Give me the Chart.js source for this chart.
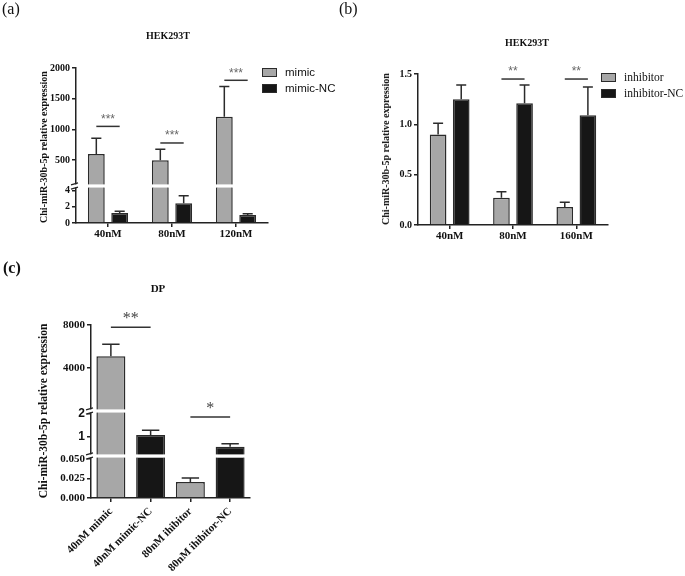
<!DOCTYPE html>
<html>
<head>
<meta charset="utf-8">
<script src="https://cdn.jsdelivr.net/npm/chart.js@4.4.1/dist/chart.umd.min.js"></script>
<style>
  body { margin: 0; background: #fff; }
  #page { position: relative; width: 685px; height: 576px; overflow: hidden; font-family: "Liberation Serif", "Times New Roman", serif; color: #111; }
  canvas { position: absolute; }
  .txt { position: absolute; white-space: nowrap; line-height: 1; }
  .ytitle { position: absolute; white-space: nowrap; line-height: 1; font-weight: bold; transform: translate(-50%, -50%) rotate(-90deg); }
  .key { position: absolute; box-sizing: border-box; width: 15px; height: 9px; border: 1.5px solid #2b2b2b; }
</style>
</head>
<body>
<div id="page">
  <canvas id="chartA" width="340" height="250" style="left:0;top:0"></canvas>
  <canvas id="chartB" width="340" height="250" style="left:345px;top:0"></canvas>
  <canvas id="chartC" width="340" height="326" style="left:0;top:250px"></canvas>

  <div class="txt" style="left:2px;top:1px;font-size:16px">(a)</div>
  <div class="txt" style="left:339px;top:1px;font-size:16px">(b)</div>
  <div class="txt" style="left:3px;top:260px;font-size:16px;font-weight:bold">(c)</div>

  <div class="txt" style="left:168px;top:36px;font-size:10px;font-weight:bold;transform:translate(-50%,-50%)">HEK293T</div>
  <div class="txt" style="left:527px;top:43px;font-size:10px;font-weight:bold;transform:translate(-50%,-50%)">HEK293T</div>
  <div class="txt" style="left:158px;top:288px;font-size:11px;font-weight:bold;transform:translate(-50%,-50%)">DP</div>

  <div class="ytitle" style="left:44px;top:147px;font-size:10px">Chi-miR-30b-5p relative expression</div>
  <div class="ytitle" style="left:386px;top:149px;font-size:10px">Chi-miR-30b-5p relative expression</div>
  <div class="ytitle" style="left:44px;top:411px;font-size:11.5px">Chi-miR-30b-5p relative expression</div>

  <div id="legendA"></div>
  <div id="legendB"></div>
</div>
<script>
// ---- data ----
const concA = ['40nM', '80nM', '120nM'];
const seriesA = ['mimic', 'mimic-NC'];
const mimicA = [600, 500, 1205];
const mimicErrA = [255, 180, 495];
const mimicNcA = [1.25, 2.45, 1.0];
const mimicNcErrA = [0.2, 0.95, 0.15];
const sigA = ['***', '***', '***'];
const sigLevelA = [1050, 780, 1800];
const ticksALow = [0, 2, 4];
const ticksAHigh = [500, 1000, 1500, 2000];

const concB = ['40nM', '80nM', '160nM'];
const seriesB = ['inhibitor', 'inhibitor-NC'];
const inhB = [0.90, 0.27, 0.18];
const inhErrB = [0.11, 0.06, 0.045];
const inhNcB = [1.25, 1.21, 1.09];
const inhNcErrB = [0.14, 0.18, 0.28];
const sigB = ['', '**', '**'];
const sigLevelB = [null, 1.45, 1.45];
const ticksB = [0, 0.5, 1.0, 1.5];

const groupsC = ['40nM mimic', '40nM mimic-NC', '80nM ihibitor', '80nM ihibitor-NC'];
const valuesC = [5100, 1.09, 0.0205, 0.57];
const errC = [1100, 0.2, 0.0052, 0.13];
const sigC = ['**', '*'];
const sigLevelC = [7800, 1.87];
const ticksCLow = [0, 0.025, 0.05];
const ticksCMid = [1, 2];
const ticksCTop = [4000, 8000];

// ---- styles ----
const serif = "'Liberation Serif', 'Times New Roman', serif";
const sans = "'Liberation Sans', Arial, sans-serif";
const gray = '#a7a7a7';
const black = '#161616';
const edge = '#2b2b2b';
const axisColor = '#222';

// clip a series to one axis segment as floating bars
function segData(values, lo, hi) {
  return values.map(v => (v > lo ? [lo, Math.min(v, hi)] : null));
}

// pixel of a value on a broken axis (ids ordered bottom -> top)
function pxOf(chart, ids, v) {
  for (const id of ids) {
    const s = chart.scales[id];
    if (v >= s.min && v <= s.max) return s.getPixelForValue(v);
  }
  for (let k = ids.length - 1; k >= 0; k--) {
    const s = chart.scales[ids[k]];
    if (v > s.max) return s.top;
  }
  return chart.scales[ids[0]].bottom;
}

function yScale(seg, fmt, fontFor) {
  return {
    type: 'linear', position: 'left', stacked: false,
    stack: 'y', stackWeight: seg.weight,
    min: seg.min, max: seg.max,
    afterFit: s => { s.width = seg.axisWidth; },
    afterBuildTicks: s => { s.ticks = seg.ticks.map(v => ({ value: v })); },
    grid: { drawOnChartArea: false, drawTicks: true, tickLength: 4, color: axisColor, lineWidth: 1.5 },
    border: { display: true, color: axisColor, width: 1.5 },
    ticks: { color: '#111', padding: 2, autoSkip: false, callback: fmt,
             font: fontFor || { family: serif, size: 10, weight: 'bold' } }
  };
}

function xScale(height, font, rotate) {
  return {
    type: 'category',
    afterFit: s => { s.height = height; },
    offset: true,
    grid: { offset: false, drawOnChartArea: false, drawTicks: true, tickLength: 4, color: axisColor, lineWidth: 1.5 },
    border: { display: true, color: axisColor, width: 1.5 },
    ticks: { color: '#111', padding: rotate ? 3 : 1, autoSkip: false,
             minRotation: rotate || 0, maxRotation: rotate || 0, font: font }
  };
}

function drawBreaks(ctx, chart, ids) {
  const a = chart.chartArea;
  for (let k = 0; k < ids.length - 1; k++) {
    const y = chart.scales[ids[k]].top;
    ctx.fillStyle = '#fff';
    ctx.fillRect(a.left - 2, y - 1.6, a.right - a.left + 2, 3.2);
    ctx.strokeStyle = axisColor;
    ctx.lineWidth = 1.2;
    ctx.beginPath();
    ctx.moveTo(a.left - 5, y - 1.2); ctx.lineTo(a.left + 2, y - 3.2);
    ctx.moveTo(a.left - 5, y + 3.2); ctx.lineTo(a.left + 2, y + 1.2);
    ctx.stroke();
  }
}

function drawErrors(ctx, chart, ids, datasetIndex, values, errs) {
  const meta = chart.getDatasetMeta(datasetIndex);
  ctx.strokeStyle = edge;
  ctx.lineWidth = 1.5;
  meta.data.forEach((bar, i) => {
    const x = bar.x, w = bar.width;
    const y0 = pxOf(chart, ids, values[i]);
    const y1 = pxOf(chart, ids, values[i] + errs[i]);
    ctx.beginPath();
    ctx.moveTo(x, y0); ctx.lineTo(x, y1);
    ctx.moveTo(x - w * 0.3, y1); ctx.lineTo(x + w * 0.3, y1);
    ctx.stroke();
  });
}

function drawSig(ctx, x0, x1, y, text, font, color, lift) {
  ctx.strokeStyle = '#333';
  ctx.lineWidth = 1.5;
  ctx.beginPath();
  ctx.moveTo(x0, y); ctx.lineTo(x1, y);
  ctx.stroke();
  ctx.fillStyle = color;
  ctx.font = font;
  ctx.textAlign = 'center';
  ctx.textBaseline = 'middle';
  ctx.fillText(text, (x0 + x1) / 2, y - lift);
}

function groupedPanel(canvasId, cats, names, vals, errs, sig, sigLevel, segs, box, fmt, starFont) {
  const ids = segs.map(s => s.id);
  const datasets = [];
  const lowIndex = [];
  names.forEach((name, si) => {
    segs.forEach((seg, gi) => {
      if (gi === 0) lowIndex.push(datasets.length);
      datasets.push({
        label: name,
        data: segData(vals[si], seg.min, seg.max),
        yAxisID: seg.id,
        stack: name,
        backgroundColor: si === 0 ? gray : black,
        borderColor: edge,
        borderWidth: 1.5,
        borderSkipped: 'start',
        categoryPercentage: 0.73,
        barPercentage: 0.72
      });
    });
  });
  const scales = { x: xScale(box.xHeight, { family: serif, size: 11, weight: 'bold' }) };
  segs.forEach(seg => { scales[seg.id] = yScale(seg, fmt); });

  new Chart(document.getElementById(canvasId), {
    type: 'bar',
    data: { labels: cats, datasets },
    options: {
      responsive: false, animation: false,
      layout: { padding: box.padding },
      plugins: { legend: { display: false }, tooltip: { enabled: false } },
      scales
    },
    plugins: [{
      id: 'extras',
      afterDatasetsDraw(chart) {
        const ctx = chart.ctx;
        ctx.save();
        drawBreaks(ctx, chart, ids);
        names.forEach((n, si) => drawErrors(ctx, chart, ids, lowIndex[si], vals[si], errs[si]));
        const m0 = chart.getDatasetMeta(lowIndex[0]);
        const m1 = chart.getDatasetMeta(lowIndex[1]);
        sig.forEach((t, i) => {
          if (!t) return;
          drawSig(ctx, m0.data[i].x, m1.data[i].x, pxOf(chart, ids, sigLevel[i]), t, starFont, '#666', 7);
        });
        ctx.restore();
      }
    }]
  });
}

function legendHtml(el, names, left, top, gap, size, family) {
  el.innerHTML = names.map((n, i) =>
    `<div class="key" style="left:${left}px;top:${top + i * gap}px;background:${i === 0 ? gray : black}"></div>` +
    `<div class="txt" style="left:${left + 23}px;top:${top + 4.5 + i * gap}px;font-size:${size}px;font-family:${family};transform:translateY(-50%)">${n}</div>`
  ).join('');
}

// ---- panel (a) ----
groupedPanel('chartA', concA, seriesA, [mimicA, mimicNcA], [mimicErrA, mimicNcErrA], sigA, sigLevelA,
  [
    { id: 'yLow', min: 0, max: 4.6, weight: 37, ticks: ticksALow, axisWidth: 76 },
    { id: 'yHigh', min: 80, max: 2000, weight: 118, ticks: ticksAHigh, axisWidth: 76 }
  ],
  { padding: { left: 0, right: 72, top: 68, bottom: 0 }, xHeight: 27 },
  v => String(v), `12px ${sans}`);
legendHtml(document.getElementById('legendA'), seriesA, 262, 68, 16, 11.5, sans);

// ---- panel (b) ----
groupedPanel('chartB', concB, seriesB, [inhB, inhNcB], [inhErrB, inhNcErrB], sigB, sigLevelB,
  [
    { id: 'y', min: 0, max: 1.5, weight: 1, ticks: ticksB, axisWidth: 73 }
  ],
  { padding: { left: 0, right: 77, top: 74, bottom: 0 }, xHeight: 25 },
  v => v.toFixed(1), `12px ${sans}`);
legendHtml(document.getElementById('legendB'), seriesB, 601, 73, 16, 11.5, serif);

// ---- panel (c) ----
(function () {
  const segs = [
    { id: 'yLow', min: 0, max: 0.0538, weight: 42, ticks: ticksCLow, axisWidth: 91, fmt: v => v.toFixed(3) },
    { id: 'yMid', min: 0.17, max: 2.13, weight: 45, ticks: ticksCMid, axisWidth: 91, fmt: v => String(v),
      font: { family: sans, size: 12, weight: 'bold' } },
    { id: 'yTop', min: 0, max: 8000, weight: 86, ticks: ticksCTop, axisWidth: 91, fmt: v => String(v) }
  ];
  const ids = segs.map(s => s.id);
  const colors = groupsC.map((g, i) => (i % 2 === 0 ? gray : black));
  const datasets = segs.map(seg => ({
    label: seg.id,
    data: segData(valuesC, seg.min, seg.max),
    yAxisID: seg.id,
    stack: 'one',
    backgroundColor: colors,
    borderColor: edge,
    borderWidth: 1.5,
    borderSkipped: 'start',
    categoryPercentage: 0.9,
    barPercentage: 0.81
  }));
  const scales = { x: xScale(78, { family: serif, size: 11, weight: 'bold' }, 45) };
  segs.forEach(seg => {
    scales[seg.id] = yScale(seg, seg.fmt, seg.font || { family: serif, size: 11, weight: 'bold' });
  });
  new Chart(document.getElementById('chartC'), {
    type: 'bar',
    data: { labels: groupsC, datasets },
    options: {
      responsive: false, animation: false,
      layout: { padding: { left: 0, right: 90, top: 75, bottom: 0 } },
      plugins: { legend: { display: false }, tooltip: { enabled: false } },
      scales
    },
    plugins: [{
      id: 'extrasC',
      afterDatasetsDraw(chart) {
        const ctx = chart.ctx;
        ctx.save();
        drawBreaks(ctx, chart, ids);
        drawErrors(ctx, chart, ids, 0, valuesC, errC);
        const bars = chart.getDatasetMeta(0).data;
        sigC.forEach((t, k) => {
          drawSig(ctx, bars[2 * k].x, bars[2 * k + 1].x, pxOf(chart, ids, sigLevelC[k]), t,
            `16px ${serif}`, '#444', 8);
        });
        ctx.restore();
      }
    }]
  });
})();
</script>
</body>
</html>
